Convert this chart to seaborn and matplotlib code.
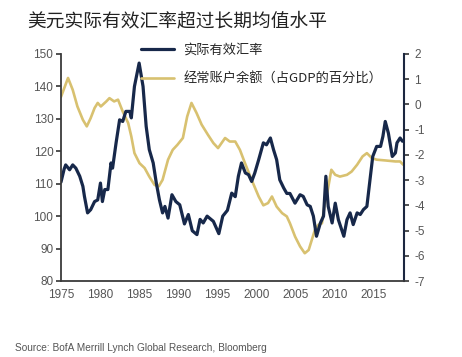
import seaborn as sns
import matplotlib.pyplot as plt
import pandas as pd

# real effective exchange rate (left axis)
reer_years = [1975.0, 1975.4, 1975.6, 1976.1, 1976.5, 1976.9, 1977.4, 1977.8, 1978.0, 1978.4,
              1978.8, 1979.3, 1979.7, 1980.05, 1980.3, 1980.6, 1981.0, 1981.4, 1981.6, 1982.05,
              1982.5, 1982.9, 1983.3, 1983.8, 1984.0, 1984.4, 1985.0, 1985.5, 1985.9, 1986.3,
              1986.8, 1987.2, 1987.6, 1988.0, 1988.3, 1988.7, 1989.2, 1989.7, 1990.2, 1990.8,
              1991.3, 1991.8, 1992.4, 1992.8, 1993.2, 1993.7, 1994.5, 1995.2, 1995.7, 1996.3,
              1996.85, 1997.3, 1997.7, 1998.1, 1998.6, 1999.0, 1999.4, 1999.8, 2000.3, 2000.9,
              2001.3, 2001.8, 2002.2, 2002.6, 2003.0, 2003.5, 2003.9, 2004.3, 2004.95, 2005.6,
              2006.0, 2006.5, 2006.9, 2007.3, 2007.7, 2008.2, 2008.6, 2008.9, 2009.2, 2009.7,
              2010.1, 2010.5, 2011.2, 2011.6, 2012.0, 2012.4, 2012.9, 2013.3, 2013.7, 2014.15,
              2014.6, 2014.9, 2015.4, 2015.9, 2016.2, 2016.5, 2016.9, 2017.4, 2017.8, 2018.0,
              2018.4, 2018.7]
reer_values = [110.5, 114.5, 115.8, 114.3, 115.8, 114.8, 112.3, 109.2, 106.1, 101.0,
               102.0, 104.5, 105.0, 110.2, 104.5, 108.2, 108.2, 116.4, 114.8, 122.6,
               129.7, 129.2, 132.3, 132.3, 130.3, 140.0, 147.2, 140.0, 127.7, 120.5,
               116.4, 110.2, 105.0, 101.0, 103.0, 99.4, 106.6, 104.5, 103.5, 97.6,
               100.5, 95.5, 94.3, 99.0, 97.9, 100.0, 98.4, 94.6, 100.0, 101.8,
               107.1, 106.0, 112.3, 116.4, 113.3, 112.8, 110.7, 113.3, 117.4, 122.6,
               122.0, 124.1, 120.5, 117.4, 111.2, 108.7, 107.0, 107.0, 104.0, 106.6,
               106.1, 103.5, 103.0, 100.0, 93.8, 97.9, 100.0, 112.3, 103.0, 97.9,
               104.0, 98.9, 93.8, 98.9, 101.0, 97.4, 101.0, 100.5, 102.0, 103.0,
               112.3, 118.4, 121.5, 121.5, 124.6, 129.2, 125.6, 118.4, 119.5, 122.6,
               124.1, 123.1]

# current account balance, % of GDP (right axis)
ca_years = [1975.0, 1975.9, 1976.5, 1977.1, 1977.8, 1978.3, 1978.8, 1979.3, 1979.7, 1980.1,
            1980.8, 1981.2, 1981.8, 1982.3, 1982.9, 1983.6, 1984.0, 1984.4, 1985.05, 1985.7,
            1986.3, 1986.97, 1987.5, 1988.0, 1988.7, 1989.3, 1989.9, 1990.6, 1991.15, 1991.7,
            1992.35, 1993.0, 1993.8, 1994.5, 1995.1, 1996.0, 1996.6, 1997.3, 1997.9, 1998.55,
            1999.4, 2000.3, 2000.9, 2001.5, 2002.0, 2002.6, 2003.3, 2003.9, 2004.3, 2004.96,
            2005.6, 2006.2, 2006.7, 2007.1, 2007.5, 2007.95, 2008.4, 2008.7, 2009.15, 2009.6,
            2010.1, 2010.7, 2011.6, 2012.2, 2012.9, 2013.6, 2014.15, 2014.8, 2015.4, 2016.5,
            2017.8, 2018.4, 2018.8]
ca_values = [0.3, 1.05, 0.58, -0.08, -0.61, -0.87, -0.54, -0.14, 0.06, -0.08,
             0.12, 0.25, 0.12, 0.19, -0.28, -0.74, -1.27, -1.93, -2.33, -2.52,
             -2.86, -3.19, -3.25, -2.99, -2.19, -1.8, -1.6, -1.33, -0.48, 0.06,
             -0.34, -0.8, -1.2, -1.53, -1.73, -1.33, -1.47, -1.47, -1.8, -2.33,
             -2.99, -3.65, -4.0, -3.91, -3.65, -4.05, -4.31, -4.44, -4.71, -5.24,
             -5.63, -5.9, -5.77, -5.37, -4.97, -4.77, -4.71, -4.05, -3.38, -2.59,
             -2.79, -2.86, -2.79, -2.66, -2.39, -2.06, -1.93, -2.13, -2.19, -2.22,
             -2.26, -2.26, -2.39]

title = "美元实际有效汇率超过长期均值水平"
reer_label = "实际有效汇率"
ca_label = "经常账户余额（占GDP的百分比）"
source = "Source: BofA Merrill Lynch Global Research, Bloomberg"

reer_df = pd.DataFrame({"year": reer_years, "value": reer_values})
ca_df = pd.DataFrame({"year": ca_years, "value": ca_values})

sns.set_style("white")
plt.rcParams['font.family'] = ['Liberation Sans', 'Noto Sans CJK SC', 'DejaVu Sans']
plt.rcParams['axes.unicode_minus'] = False

navy = "#17284a"
gold = "#d8c170"
grey = "#555555"

fig = plt.figure(figsize=(4.62, 3.57), dpi=100)
ax = fig.add_axes([61 / 462, 1 - 281 / 357, 343 / 462, 227 / 357])
ax2 = ax.twinx()

sns.lineplot(data=ca_df, x="year", y="value", ax=ax2, color=gold, linewidth=1.9,
             label=ca_label, legend=False)
sns.lineplot(data=reer_df, x="year", y="value", ax=ax, color=navy, linewidth=2.3,
             label=reer_label, legend=False)

# keep the REER line on top
ax.set_zorder(ax2.get_zorder() + 1)
ax.patch.set_visible(False)

ax.set_xlim(1975, 2018.9)
ax.set_ylim(80, 150)
ax2.set_ylim(-7, 2)
ax.set_xticks(range(1975, 2016, 5))
ax.set_yticks(range(80, 151, 10))
ax2.set_yticks(range(-7, 3, 1))
ax.set_xlabel("")
ax.set_ylabel("")
ax2.set_ylabel("")

for a in (ax, ax2):
    a.spines["top"].set_visible(False)
    a.tick_params(direction="out", length=3.5, width=1.2, labelsize=8.5,
                  labelcolor=grey, color="#333333", pad=2)
ax.spines["right"].set_visible(False)
ax2.spines["left"].set_visible(False)
ax2.spines["bottom"].set_visible(False)
ax.spines["left"].set_color("#3a3a3a")
ax.spines["bottom"].set_color("#3a3a3a")
ax2.spines["right"].set_color("#1c2740")
for s in ("left", "bottom"):
    ax.spines[s].set_linewidth(1.3)
ax2.spines["right"].set_linewidth(1.5)
ax.tick_params(axis="x", length=4)
ax2.tick_params(axis="y", pad=4)

h1, l1 = ax.get_legend_handles_labels()
h2, l2 = ax2.get_legend_handles_labels()
fig.legend(h1 + h2, l1 + l2, loc="upper left", bbox_to_anchor=(141 / 462, 1 - 44 / 357),
           frameon=False, handlelength=2.5, handletextpad=0.7,
           labelspacing=1.2, borderpad=0, borderaxespad=0,
           prop={"family": ["Noto Sans CJK SC"], "size": 9.5})

fig.text(27 / 462, 1 - 21 / 357, title, fontsize=13.5, color="#222222",
         family=["Noto Sans CJK SC"], va="center", ha="left")
fig.text(15 / 462, 1 - 348 / 357, source, fontsize=7.3, color=grey, va="center", ha="left")

fig.savefig("out.png", dpi=100)
